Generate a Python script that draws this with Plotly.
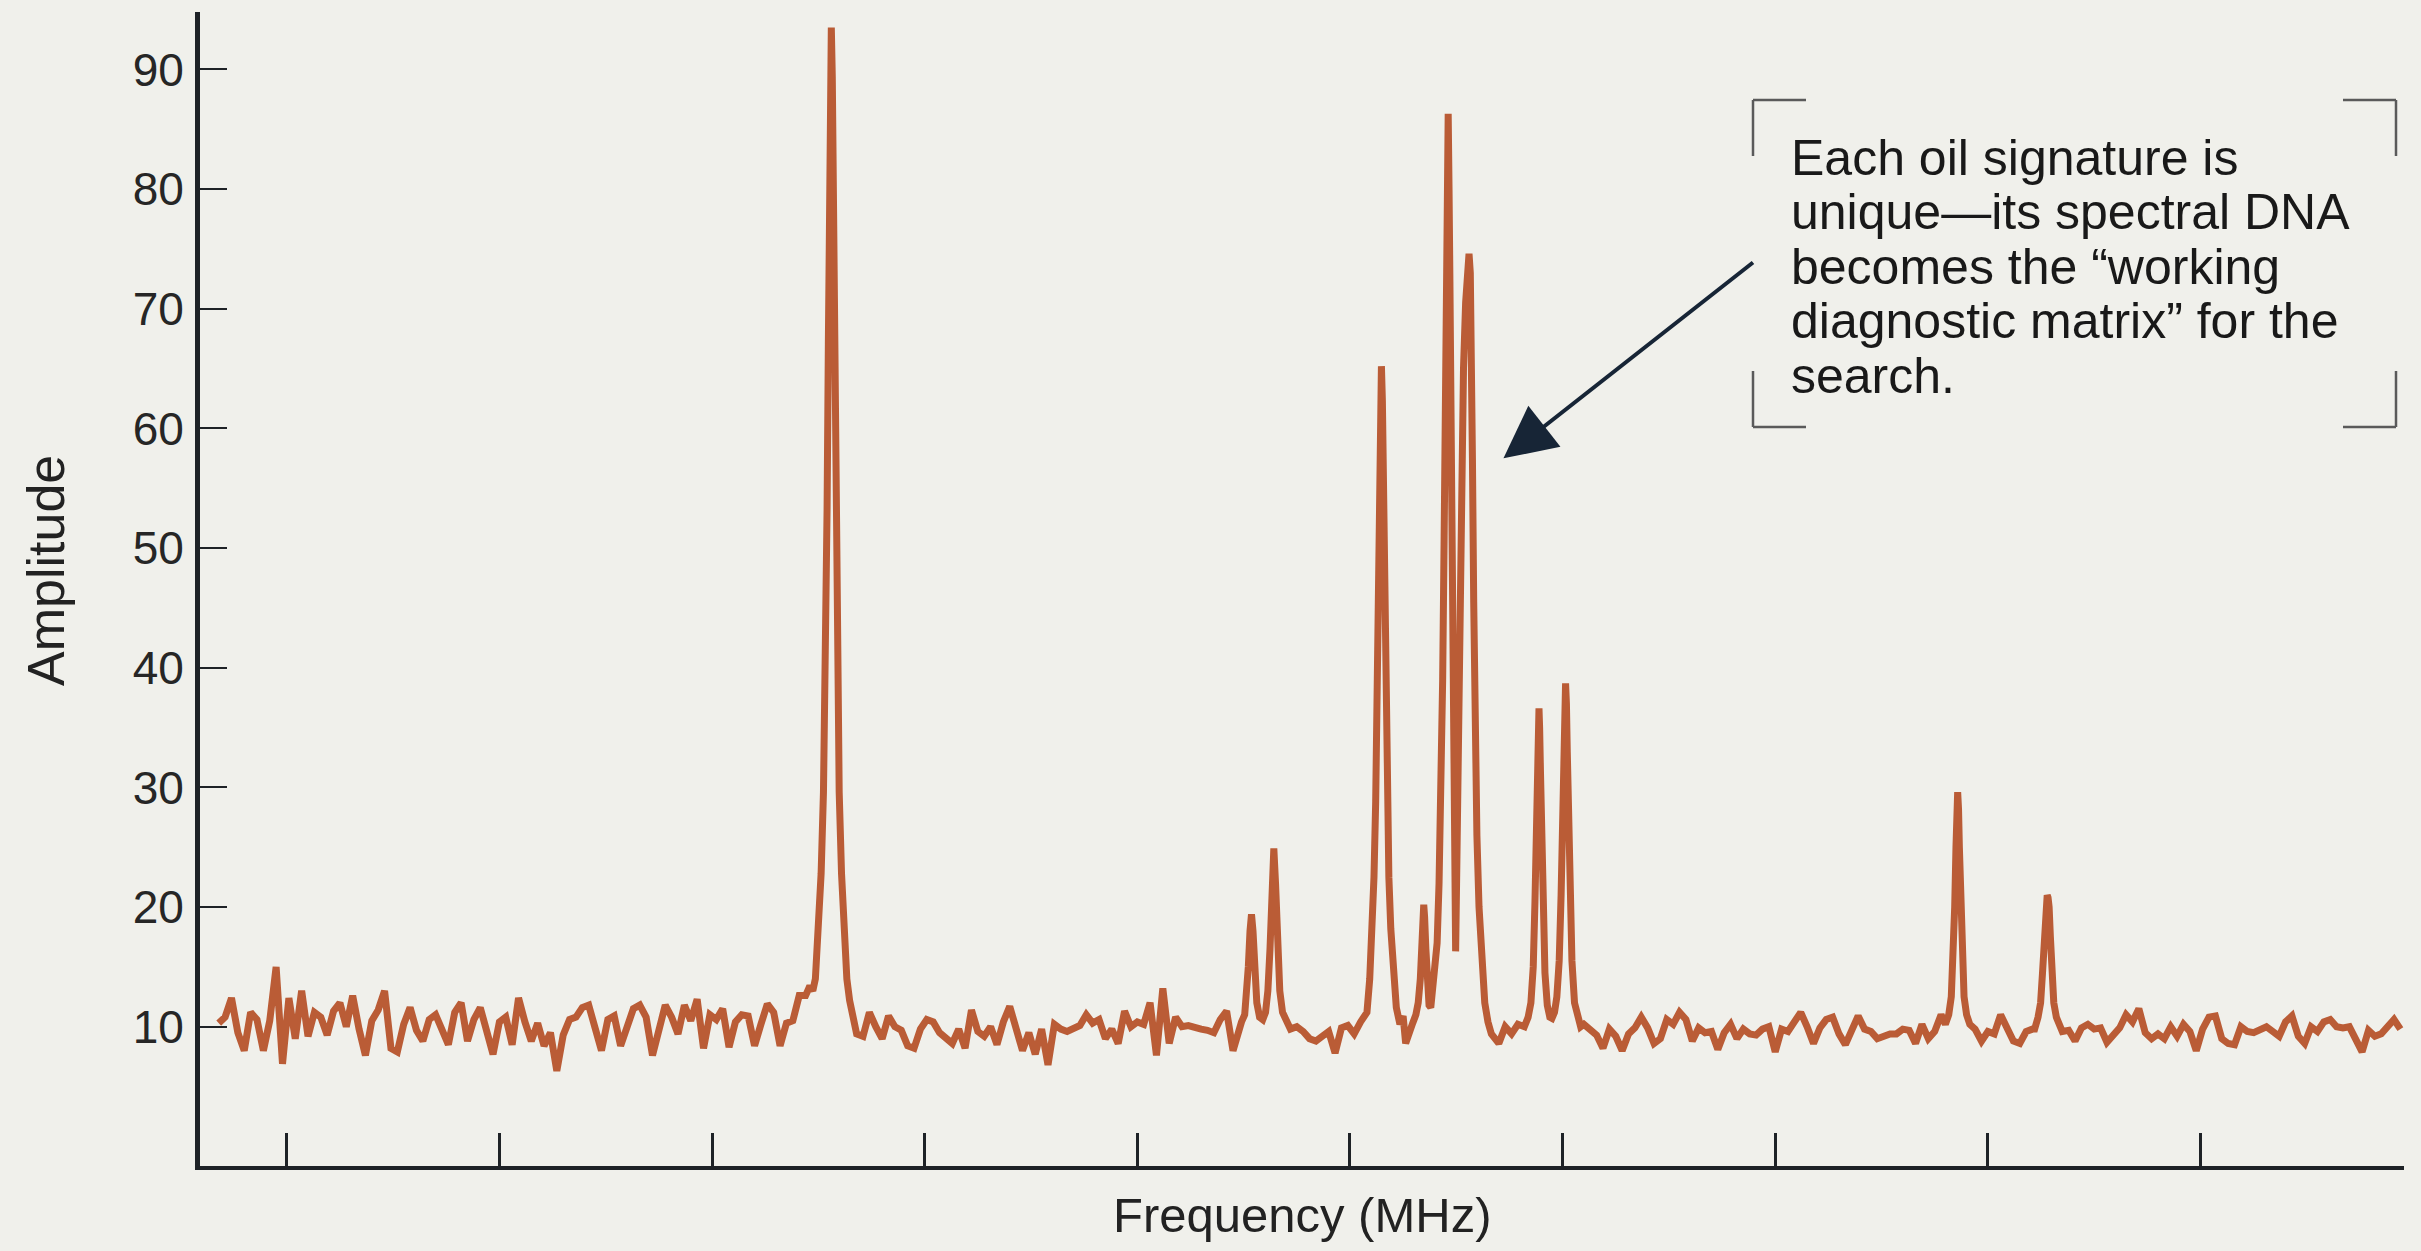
import plotly.graph_objects as go

# ---------------- data (frequency in arbitrary axis units, amplitude) ----------------
STEP = 0.03  # spacing of the noisy baseline samples

base1_start = 0.68
base1_amp = [10.3, 10.8, 12.4, 9.5, 8.0, 11.2, 10.6, 8.0, 10.5, 15.0,
             6.9, 12.4, 9.0, 13.0, 9.2, 11.2, 10.8, 9.3, 11.3, 12.0,
             10.0, 12.6, 9.8, 7.6, 10.5, 11.4, 13.0, 8.2, 7.9, 10.2,
             11.6, 9.7, 8.8, 10.6, 11.0, 9.8, 8.5, 11.2, 12.0, 8.8,
             10.6, 11.6, 9.6, 7.7, 10.4, 10.8, 8.5, 12.4, 10.4, 8.8,
             10.3, 8.4, 9.5, 6.3, 9.3, 10.6, 10.8, 11.6, 11.8, 9.6,
             8.0, 10.6, 10.9, 8.4, 10.0, 11.5, 11.8, 10.8,
             7.6, 10.0, 11.8, 10.8, 9.4, 11.8, 10.5, 12.3, 8.2, 11.0,
             10.6, 11.5, 8.3, 10.4, 11.0, 10.9, 8.4, 10.2, 11.9, 11.2,
             8.4, 10.3, 10.5, 12.6]

peak_main = [(3.44, 12.6), (3.46, 13.4), (3.474, 13.0), (3.486, 14.0), (3.500, 17.5),
             (3.513, 22.8), (3.524, 29.6), (3.533, 39.3), (3.541, 53.2), (3.547, 67.0),
             (3.552, 79.2), (3.5565, 89.4), (3.561, 93.5), (3.5655, 89.4), (3.570, 79.2),
             (3.575, 67.0), (3.581, 53.2), (3.589, 39.3), (3.598, 29.6), (3.609, 22.8),
             (3.621, 17.0), (3.634, 14.0), (3.647, 12.2), (3.662, 10.8)]

base2_start = 3.68
base2_amp = [9.4, 9.2, 11.2, 10.0, 9.0, 10.9, 10.0, 9.7, 8.4, 8.2,
             9.8, 10.6, 10.4, 9.5, 9.0, 8.6, 9.8, 8.2, 11.4, 9.6,
             9.2, 10.0, 8.5, 10.4, 11.7, 9.6, 8.0, 9.5, 7.7, 9.8,
             6.8, 10.2, 9.8, 9.6, 9.9, 10.1, 11.0,
             10.3, 10.6, 9.0, 9.8, 8.6, 11.3, 10.0, 10.4, 10.2, 12.0,
             7.6, 13.2, 8.6, 10.8, 10.0, 10.1, 9.9, 9.8, 9.7, 9.5,
             10.6, 11.3, 8.0, 10.2]

peak_pair_a = [(5.49, 10.4), (5.505, 11.0), (5.513, 12.4), (5.522, 15.0), (5.530, 18.0),
               (5.537, 19.4), (5.544, 18.0), (5.552, 14.5), (5.562, 12.0), (5.575, 10.8),
               (5.59, 10.6), (5.603, 11.2), (5.614, 13.0), (5.624, 16.5), (5.634, 22.0),
               (5.642, 24.9), (5.650, 22.0), (5.660, 16.5), (5.670, 13.0), (5.683, 11.2),
               (5.70, 10.4), (5.72, 9.8)]

base3_start = 5.75
base3_amp = [10.0, 9.6, 9.0, 8.8, 9.2, 9.6, 7.8, 9.9, 10.1, 9.4, 10.4, 11.2]

peak_cluster = [(6.093, 14.0), (6.104, 18.2), (6.113, 22.5), (6.121, 28.8), (6.128, 37.9),
                (6.134, 47.0), (6.139, 55.3), (6.1435, 62.3), (6.148, 65.2), (6.1525, 62.3),
                (6.157, 55.3), (6.162, 47.0), (6.168, 37.9), (6.175, 28.8), (6.183, 22.5),
                (6.192, 18.2), (6.205, 14.0), (6.218, 11.6), (6.235, 10.2), (6.25, 10.9),
                (6.262, 8.6), (6.278, 9.6), (6.295, 10.3), (6.31, 11.0), (6.321, 12.0),
                (6.331, 14.0), (6.338, 17.0), (6.343, 19.2), (6.347, 20.2), (6.351, 19.2),
                (6.357, 16.5), (6.364, 13.5), (6.372, 11.8), (6.38, 11.6), (6.39, 13.5),
                (6.40, 15.3), (6.410, 17.0), (6.419, 22.0), (6.428, 29.0), (6.436, 39.0),
                (6.443, 51.0), (6.449, 62.0), (6.454, 71.5), (6.458, 79.5), (6.462, 86.3),
                (6.466, 80.0), (6.470, 72.5), (6.474, 62.0), (6.479, 49.0), (6.485, 35.0),
                (6.491, 24.5), (6.497, 16.3), (6.503, 24.0), (6.510, 35.0), (6.517, 46.0),
                (6.525, 56.5), (6.534, 65.0), (6.544, 70.5), (6.552, 73.5), (6.560, 74.6),
                (6.566, 73.0), (6.571, 67.5), (6.576, 57.5), (6.582, 45.5), (6.589, 34.5),
                (6.597, 26.0), (6.607, 20.0), (6.619, 15.0), (6.634, 12.0), (6.649, 10.4),
                (6.665, 9.4)]

base4_start = 6.70
base4_amp = [8.6, 10.0, 9.4, 10.2]

peak_pair_b = [(6.82, 10.0), (6.838, 10.8), (6.851, 12.0), (6.862, 15.0), (6.870, 20.4),
               (6.876, 26.0), (6.882, 31.3), (6.886, 35.0), (6.889, 36.6), (6.892, 35.0),
               (6.896, 31.3), (6.902, 26.0), (6.908, 20.0), (6.917, 14.5), (6.928, 11.8),
               (6.94, 10.8), (6.950, 10.7), (6.962, 11.2), (6.973, 12.5), (6.984, 15.5),
               (6.993, 21.0), (7.000, 27.5), (7.006, 33.0), (7.010, 37.0), (7.014, 38.7),
               (7.018, 37.0), (7.022, 33.0), (7.028, 27.5), (7.035, 21.0), (7.044, 15.5),
               (7.056, 12.0), (7.07, 10.8), (7.085, 10.0)]

base5_start = 7.10
base5_amp = [10.2, 9.8, 9.3, 8.2, 9.8, 9.2, 8.0, 9.4, 9.9, 10.8,
             9.9, 8.6, 9.0, 10.6, 10.2, 11.2, 10.6, 8.8, 9.9, 9.5,
             9.6, 8.1, 9.5, 10.2, 9.0, 9.8, 9.4, 9.3, 9.8, 10.0,
             7.9, 9.8, 9.6, 10.4, 11.2, 10.0, 8.6, 9.9, 10.6, 10.8,
             9.4, 8.5, 9.8, 10.9, 9.8, 9.6, 9.0, 9.2, 9.4, 9.4,
             9.8, 9.7, 8.6, 10.2, 9.0, 9.6, 11.0]

peak_single_a = [(8.80, 10.2), (8.816, 11.0), (8.828, 12.5), (8.837, 15.5), (8.844, 20.0),
                 (8.850, 25.0), (8.854, 28.2), (8.858, 29.6), (8.862, 28.2), (8.866, 25.0),
                 (8.872, 20.0), (8.879, 15.5), (8.888, 12.5), (8.90, 11.0), (8.915, 10.2)]

base6_start = 8.94
base6_amp = [9.8, 8.8, 9.6, 9.4, 11.0, 10.0, 8.8, 8.6, 9.6, 9.8]

peak_single_b = [(9.22, 9.8), (9.236, 10.8), (9.248, 12.0), (9.257, 14.5), (9.264, 17.5),
                 (9.270, 20.0), (9.275, 20.8), (9.279, 21.0), (9.283, 20.8), (9.288, 20.0),
                 (9.294, 17.5), (9.301, 14.5), (9.310, 12.0), (9.322, 10.8), (9.335, 10.0)]

base7_start = 9.35
base7_amp = [9.6, 9.7, 8.8, 9.9, 10.2, 9.8, 9.9, 8.7, 9.4, 9.9,
             11.0, 10.4, 11.5, 9.5, 9.0, 9.4, 9.0, 10.0, 9.2, 10.2,
             9.6, 8.0, 9.8, 10.8, 10.9, 9.0, 8.6, 8.5, 10.0, 9.6,
             9.5, 9.8, 10.0, 9.6, 9.2, 10.4, 10.9, 9.2, 8.6, 10.0,
             9.6, 10.4, 10.6, 10.0, 9.9, 10.0, 9.0, 7.9, 9.7, 9.2,
             9.4, 10.1, 10.6, 9.8]

x_ticks = [1, 2, 3, 4, 5, 6, 7, 8, 9, 10]
y_ticks = [10, 20, 30, 40, 50, 60, 70, 80, 90]
y_tick_text = ["10", "20", "30", "40", "50", "60", "70", "80", "90"]

note_lines = ["Each oil signature is",
              "unique\u2014its spectral DNA",
              "becomes the \u201cworking",
              "diagnostic matrix\u201d for the",
              "search."]

# ---------------- assemble the trace ----------------
pieces = [("b", base1_start, base1_amp), ("p", peak_main),
          ("b", base2_start, base2_amp), ("p", peak_pair_a),
          ("b", base3_start, base3_amp), ("p", peak_cluster),
          ("b", base4_start, base4_amp), ("p", peak_pair_b),
          ("b", base5_start, base5_amp), ("p", peak_single_a),
          ("b", base6_start, base6_amp), ("p", peak_single_b),
          ("b", base7_start, base7_amp)]

freq, amp = [], []
for piece in pieces:
    if piece[0] == "b":
        start, vals = piece[1], piece[2]
        for i, v in enumerate(vals):
            freq.append(round(start + i * STEP, 4))
            amp.append(v)
    else:
        for f, a in piece[1]:
            freq.append(f)
            amp.append(a)

BG = "#F0F0EB"
LINE = "#BA5C36"
AX = "#1E2226"
FONT = "Liberation Sans, Arial, Helvetica, sans-serif"

fig = go.Figure()
fig.add_trace(go.Scatter(x=freq, y=amp, mode="lines",
                         line=dict(color=LINE, width=7), hoverinfo="skip"))

# plot-area geometry (pixels) used to place layout decorations
W, H = 2421, 1251
ML, MR, MT, MB = 200, 17, 12, 85
PW, PH = W - ML - MR, H - MT - MB


def px(x):
    return (x - ML) / PW


def py(y):
    return (H - MB - y) / PH


fig.update_layout(
    width=W, height=H,
    margin=dict(l=ML, r=MR, t=MT, b=MB),
    paper_bgcolor=BG, plot_bgcolor=BG,
    showlegend=False,
    font=dict(family=FONT, color="#1E1E1E"),
)
fig.update_xaxes(range=[0.592, 10.957], showgrid=False, zeroline=False,
                 showline=True, linecolor=AX, linewidth=4,
                 ticks="inside", tickvals=x_ticks, ticklen=33, tickwidth=2.5,
                 tickcolor=AX, showticklabels=False)
fig.update_yaxes(range=[-1.64, 94.8], showgrid=False, zeroline=False,
                 showline=True, linecolor=AX, linewidth=5,
                 ticks="inside", tickvals=y_ticks, ticktext=y_tick_text,
                 ticklen=27, tickwidth=2, tickcolor=AX,
                 tickfont=dict(size=46, color="#262626", family=FONT),
                 ticklabelstandoff=2)

annotations = []
# axis titles
annotations.append(dict(text="Frequency (MHz)", xref="paper", yref="paper",
                        x=0.5, y=py(1215), xanchor="center", yanchor="middle",
                        showarrow=False, font=dict(size=49, color="#222222")))
annotations.append(dict(text="Amplitude", xref="paper", yref="paper",
                        x=px(46), y=py(571), xanchor="center", yanchor="middle",
                        textangle=-90, showarrow=False,
                        font=dict(size=52, color="#222222")))
# note text, one line at a time for tight leading
for k, line in enumerate(note_lines):
    annotations.append(dict(text=line, xref="paper", yref="paper",
                            x=px(1789), y=py(157.5 + 54.6 * k),
                            xanchor="left", yanchor="middle", showarrow=False,
                            font=dict(size=50, color="#191919")))
# arrow
annotations.append(dict(text="", x=6.722, y=57.5, xref="x", yref="y",
                        ax=251, ay=-197, showarrow=True, arrowhead=2,
                        arrowsize=2.6, arrowwidth=4, arrowcolor="#172536",
                        standoff=0))
fig.update_layout(annotations=annotations)

# corner brackets around the note
bl, br, bt, bb = 1753, 2396, 100, 427
arm_x, arm_y = 53, 56
segs = [
    (bl, bt, bl + arm_x, bt), (bl, bt, bl, bt + arm_y),
    (br - arm_x, bt, br, bt), (br, bt, br, bt + arm_y),
    (bl, bb, bl + arm_x, bb), (bl, bb - arm_y, bl, bb),
    (br - arm_x, bb, br, bb), (br, bb - arm_y, br, bb),
]
for x0, y0, x1, y1 in segs:
    fig.add_shape(type="line", xref="paper", yref="paper",
                  x0=px(x0), y0=py(y0), x1=px(x1), y1=py(y1),
                  line=dict(color="#5A5A5A", width=2.5))

fig.write_html("out.html", config={"displayModeBar": False},
               post_script="document.body.style.margin='0';document.body.style.overflow='hidden';")
